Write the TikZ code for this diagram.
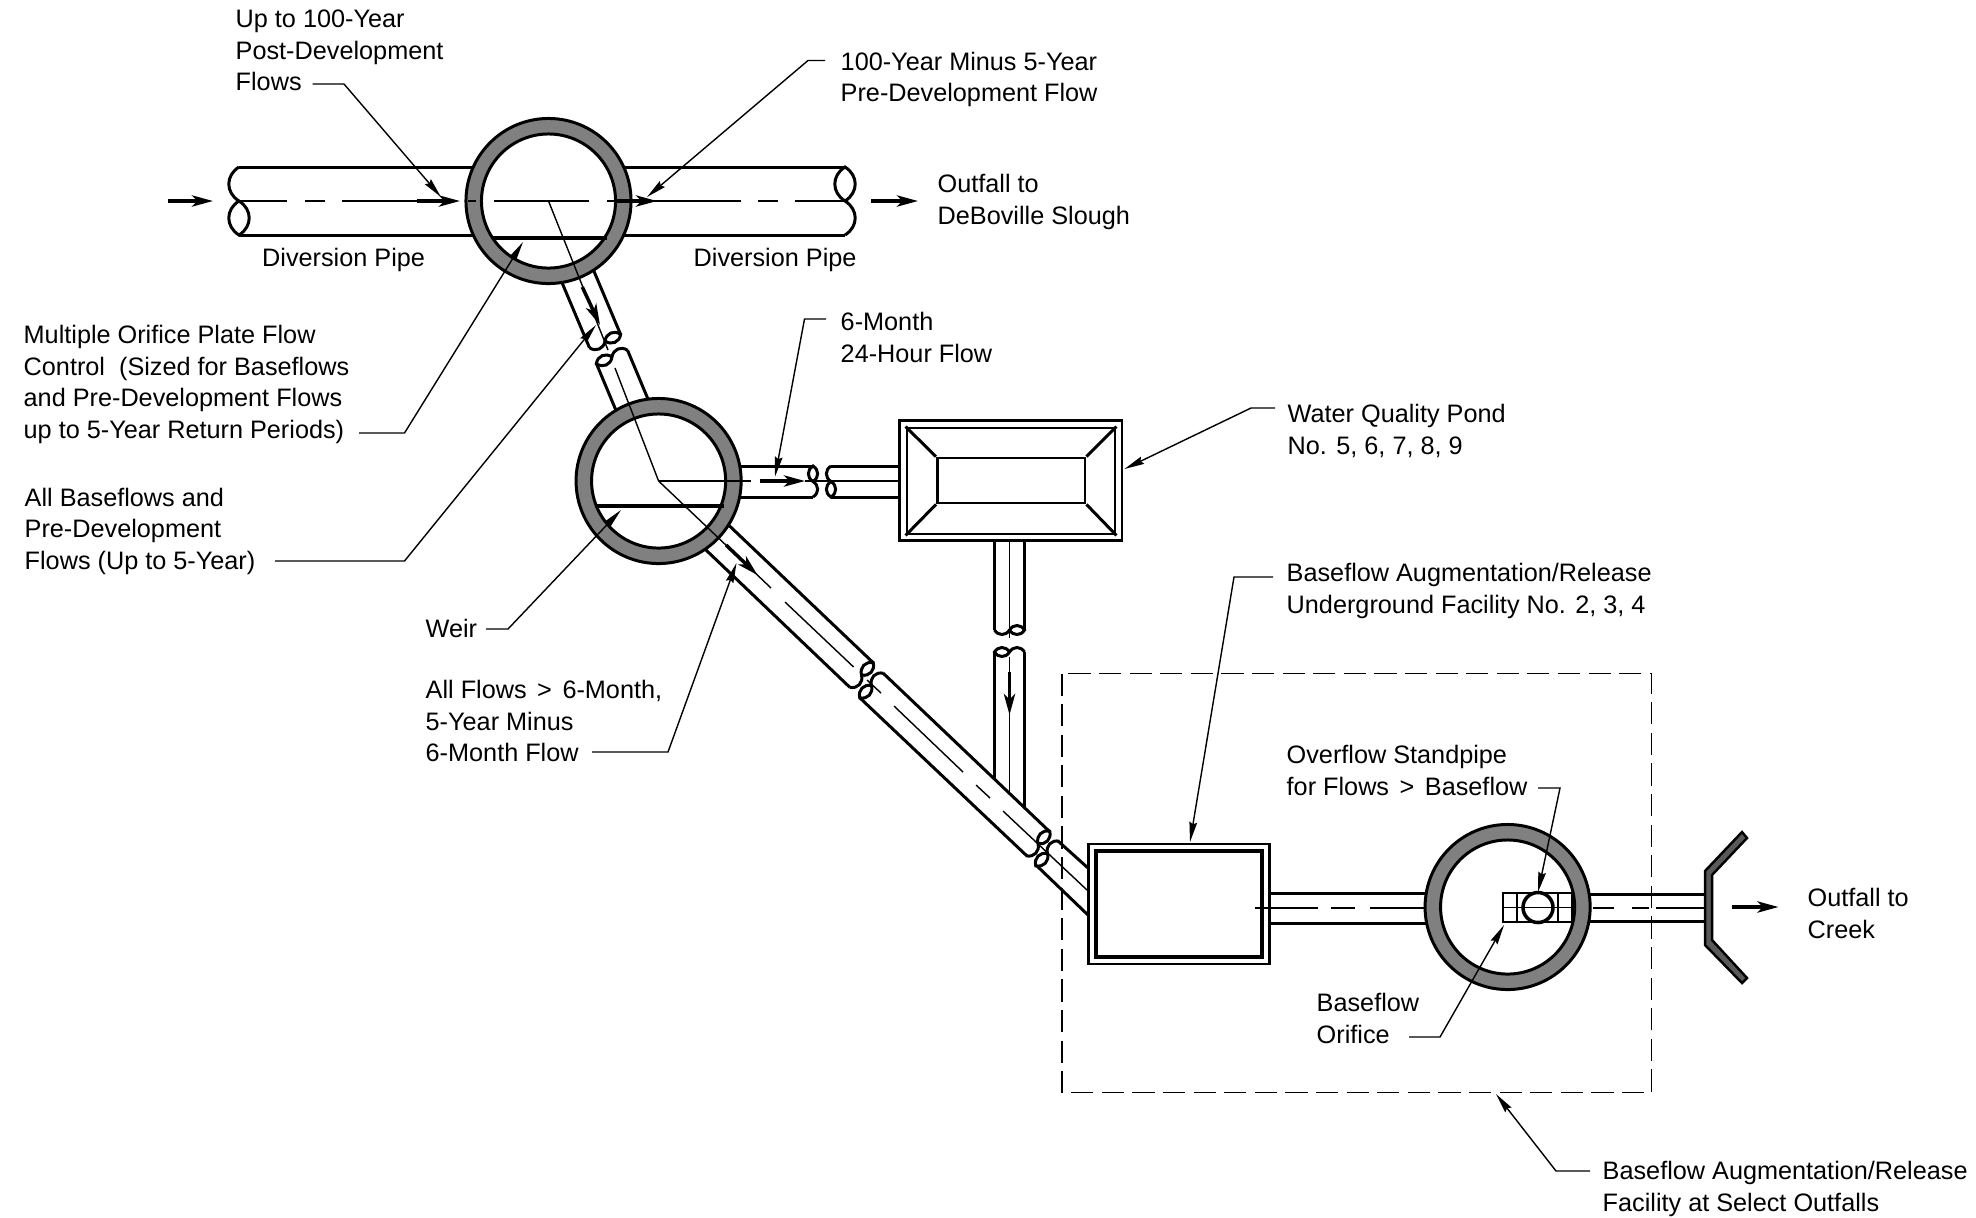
\documentclass[tikz,border=0pt]{standalone}
\usepackage{fontspec}
\setmainfont{Liberation Sans}
\usetikzlibrary{arrows.meta}
\definecolor{ringgrey}{gray}{0.5}
\newcommand{\gtsign}{\ \hspace{1pt}>\hspace{1pt}\ }
\tikzset{
    pipeline/.style={line width=0.85pt},
    centerline/.style={line width=0.4pt},
    leader/.style={line width=0.4pt, -{Stealth[length=5.7pt,width=2.2pt,inset=0.6pt]}},
    flowarrow/.style={line width=1pt, -{Stealth[length=6pt,width=3.2pt,inset=1.6pt]}},
    plate/.style={line width=1.3pt},
    lbl/.style={font=\fontsize{7.18}{8.96}\selectfont, align=left, inner sep=0pt, anchor=north west, xshift=-0.01cm, yshift=0.004cm},
    ringout/.style={circle, draw, line width=0.85pt, fill=ringgrey, inner sep=0pt, minimum size=1.65cm},
    ringin/.style={circle, draw, line width=0.85pt, fill=white, inner sep=0pt, minimum size=1.34cm},
    tank/.style={draw, line width=0.8pt, fill=white, inner sep=0pt},
    orificebox/.style={line width=0.6pt},
    pipeend/.pic={
        \draw[pipeline] (0,1) .. controls (0.4,0.75) and (0.4,0.25) .. (0,0)
            .. controls (0.4,-0.25) and (0.4,-0.75) .. (0,-1)
            .. controls (-0.4,-0.75) and (-0.4,-0.25) .. (0,0);
    }
}
\begin{document}
\begin{tikzpicture}[x=0.01cm, y=-0.01cm]
    \useasboundingbox (0,0) rectangle (1976,1217);

    % Diversion pipe
    \draw[pipeline] (239,167) -- (845,167);
    \draw[pipeline] (239,235) -- (845,235);
    \pic[rotate=180, scale=34] at (239,201) {pipeend};
    \pic[rotate=0, scale=34] at (845,201) {pipeend};

    % Pipe between the two upper rings
    \draw[pipeline] (585.6,251.4) -- (620.6,334.4);
    \draw[pipeline] (554.4,264.6) -- (589.4,347.6);
    \pic[rotate=-67, scale=17] at (605,341) {pipeend};
    \draw[pipeline] (627.6,350.4) -- (658.6,424.4);
    \draw[pipeline] (596.4,363.6) -- (627.4,437.6);
    \pic[rotate=113, scale=17] at (612,357) {pipeend};

    % Pipe to the pond
    \draw[pipeline] (700,466) -- (813,466);
    \draw[pipeline] (700,497) -- (813,497);
    \pic[rotate=0, scale=15.5] at (813,481.5) {pipeend};
    \draw[pipeline] (831,466) -- (899,466);
    \draw[pipeline] (831,497) -- (899,497);
    \pic[rotate=180, scale=15.5] at (831,481.5) {pipeend};

    % Pipe below the pond
    \draw[pipeline] (994.5,541) -- (994.5,630);
    \draw[pipeline] (1024.5,541) -- (1024.5,630);
    \pic[rotate=-90, scale=15] at (1009.5,630) {pipeend};
    \draw[pipeline] (994.5,652) -- (994.5,779);
    \draw[pipeline] (1024.5,652) -- (1024.5,807.7);
    \pic[rotate=90, scale=15] at (1009.5,652) {pipeend};

    % Diagonal pipe
    \draw[pipeline] (703,500.7) -- (873.2,662.7);
    \draw[pipeline] (679.8,525) -- (849.8,687.3);
    \pic[rotate=-43.6, scale=17] at (861.5,675) {pipeend};
    \draw[pipeline] (883,673) -- (1049,831);
    \draw[pipeline] (860,698) -- (1027,856);
    \pic[rotate=136.4, scale=17] at (871.5,685.5) {pipeend};
    \pic[rotate=-43.6, scale=17] at (1038,843.5) {pipeend};
    \draw[pipeline] (1058,841) -- (1088,868);
    \draw[pipeline] (1037,866) -- (1088,915);
    \pic[rotate=136.4, scale=17] at (1047.5,853.5) {pipeend};

    % Pipe from the facility to the outfall
    \draw[pipeline] (1270,893) -- (1440,893);
    \draw[pipeline] (1270,923) -- (1440,923);
    \draw[pipeline] (1570,894) -- (1705,894);
    \draw[pipeline] (1570,921) -- (1705,921);

    % Rings
    \node[ringout] (ringA) at (548.5,201) {};
    \node[ringin] (ringAin) at (ringA) {};
    \node[ringout] (ringB) at (658.6,481) {};
    \node[ringin] (ringBin) at (ringB) {};
    \node[ringout] (ringC) at (1507.6,907) {};
    \node[ringin] (ringCin) at (ringC) {};
    \draw[plate] (492,238) -- (607,238);
    \draw[plate] (597,506) -- (724,506);

    % Pond
    \node[tank, minimum width=2.225cm, minimum height=1.2cm] (pondOut) at (1010.7,480.5) {};
    \node[tank, minimum width=2.08cm, minimum height=1.06cm] (pondTop) at (1011,481) {};
    \node[tank, minimum width=1.476cm, minimum height=0.45cm] (pondBed) at (1011.2,480.5) {};
    \draw[pipeline] (pondTop.north west) -- (pondBed.north west);
    \draw[pipeline] (pondTop.north east) -- (pondBed.north east);
    \draw[pipeline] (pondTop.south west) -- (pondBed.south west);
    \draw[pipeline] (pondTop.south east) -- (pondBed.south east);

    % Underground facility
    \node[tank, minimum width=1.81cm, minimum height=1.2cm] (vaultOut) at (1179,904) {};
    \node[tank, line width=1.05pt, minimum width=1.66cm, minimum height=1.06cm] (vaultIn) at (1179,904) {};

    % Orifice and standpipe
    \draw[orificebox] (1503,893) rectangle (1572,922);
    \draw[orificebox] (1517,893) -- (1517,922) (1558,893) -- (1558,922);
    \node[circle, draw, line width=1pt, fill=white, inner sep=0pt, minimum size=0.3cm] (standpipe) at (1538,907.5) {};
    \draw[centerline] (1503,907.5) -- (1572,907.5);

    % Headwall
    \draw[line width=0.7pt, fill=ringgrey!70!black] (1742,832) -- (1747,838) -- (1712,875) -- (1712,940)
        -- (1747,978) -- (1742,983) -- (1705,945) -- (1705,871) -- cycle;

    % Center lines
    \draw[centerline] (239,201) -- (287,201) (305,201) -- (325,201) (342,201) -- (417,201);
    \draw[centerline] (494,201) -- (589,201) (607,201) -- (741,201) (758,201) -- (778,201) (795,201) -- (845,201);
    \draw[centerline] (468,201) -- (476,201);
    \coordinate (breakAB) at (608,350);
    \coordinate (breakBA) at (615,368);
    \draw[centerline] (ringA.center) -- (breakAB);
    \draw[centerline] (breakBA) -- (ringB.center);
    \draw[centerline] (ringB.center) -- (751,481);
    \draw[centerline] (805,481) -- (899,481);
    \draw[centerline] (1009.5,541) -- (1009.5,638) (1009.5,657) -- (1009.5,793);
    \draw[centerline] (ringB.center) -- (771,588);
    \draw[centerline] (785,602) -- (853.6,667) (867,680) -- (881,693);
    \draw[centerline] (894,706) -- (963,772) (976,785) -- (990,798) (1003,811) -- (1087,890);
    \draw[centerline] (1254.5,908) -- (1318,908) (1331,908) -- (1355,908) (1370,908) -- (1424.5,908);
    \draw[centerline] (1593,908) -- (1614,908) (1632,908) -- (1649,908) (1656,908) -- (1704,908);

    % Flow arrows
    \draw[flowarrow] (168,201) -- (213,201);
    \draw[flowarrow] (417,201) -- (460,201);
    \draw[flowarrow] (615,201) -- (657,201);
    \draw[flowarrow] (871,201) -- (918,201);
    \draw[flowarrow] (582.3,287) -- (600,325);
    \draw[flowarrow] (759.5,481) -- (805,481);
    \draw[flowarrow] (726,545) -- (757.5,575);
    \draw[flowarrow] (1009.5,672) -- (1009.5,715);
    \draw[flowarrow] (1732,907) -- (1778.5,907);

    % Selected outfalls
    \draw[line width=0.45pt, dash pattern=on 6.3pt off 2.4pt] (1062,673.5) rectangle (1651.5,1092.6);

    % Labels
    \node[lbl] (upTo) at (236,10) {Up to 100-Year\\Post-Development\\Flows};
    \node[lbl] (minusFlow) at (841,51.5) {100-Year Minus 5-Year\\Pre-Development Flow};
    \node[lbl] (outfallSlough) at (938,174) {Outfall to\\DeBoville Slough};
    \node[lbl] (pipeLeft) at (262.5,248) {Diversion Pipe};
    \node[lbl] (pipeRight) at (694,248) {Diversion Pipe};
    \node[lbl] (orificePlate) at (24,325) {Multiple Orifice Plate Flow\\Control\ \ (Sized for Baseflows\\and Pre-Development Flows\\up to 5-Year Return Periods)};
    \node[lbl] (allBase) at (25,487.5) {All Baseflows and\\Pre-Development\\Flows (Up to 5-Year)};
    \node[lbl] (sixMonth) at (841,312) {6-Month\\24-Hour Flow};
    \node[lbl] (waterPond) at (1288,404) {Water Quality Pond\\No. 5, 6, 7, 8, 9};
    \node[lbl] (underground) at (1287,563) {Baseflow Augmentation/Release\\Underground Facility No. 2, 3, 4};
    \node[lbl] (overflow) at (1287,745) {Overflow Standpipe\\for Flows\gtsign Baseflow};
    \node[lbl] (baseOrifice) at (1317,993) {Baseflow\\Orifice};
    \node[lbl] (weir) at (426,618.6) {Weir};
    \node[lbl] (allFlows) at (426,680) {All Flows\gtsign 6-Month,\\5-Year Minus\\6-Month Flow};
    \node[lbl] (outfallCreek) at (1808,888) {Outfall to\\Creek};
    \node[lbl] (selectOut) at (1603,1161) {Baseflow Augmentation/Release\\Facility at Select Outfalls};

    % Leaders
    \coordinate (upStart) at (312.5,84);
    \coordinate (upTip) at (441,197);
    \draw[leader] (upStart) -- (344,84) -- (upTip);
    \coordinate (minusStart) at (825,60.5);
    \coordinate (minusTip) at (647,197);
    \draw[leader] (minusStart) -- (808,60.5) -- (minusTip);
    \coordinate (plateStart) at (359,433);
    \coordinate (plateTip) at (523,242);
    \draw[leader] (plateStart) -- (404.5,433) -- (plateTip);
    \coordinate (baseStart) at (275,561);
    \coordinate (baseTip) at (596,325);
    \draw[leader] (baseStart) -- (404.5,561) -- (baseTip);
    \coordinate (sixStart) at (826,319);
    \coordinate (sixTip) at (775,476.7);
    \draw[leader] (sixStart) -- (804.5,319) -- (sixTip);
    \coordinate (pondStart) at (1275,408);
    \coordinate (pondTip) at (1124.4,469);
    \draw[leader] (pondStart) -- (1251,408) -- (pondTip);
    \coordinate (vaultStart) at (1273,577);
    \coordinate (vaultTip) at (1190,842);
    \draw[leader] (vaultStart) -- (1234,577) -- (vaultTip);
    \coordinate (overStart) at (1538,788);
    \coordinate (overTip) at (1538,892);
    \draw[leader] (overStart) -- (1560,788) -- (overTip);
    \coordinate (orificeStart) at (1409,1037);
    \coordinate (orificeTip) at (1504,925);
    \draw[leader] (orificeStart) -- (1440,1037) -- (orificeTip);
    \coordinate (weirStart) at (486,629);
    \coordinate (weirTip) at (621,510);
    \draw[leader] (weirStart) -- (508,629) -- (weirTip);
    \coordinate (flowsStart) at (592,752);
    \coordinate (flowsTip) at (736.5,563);
    \draw[leader] (flowsStart) -- (668,752) -- (flowsTip);
    \coordinate (selectStart) at (1590,1171);
    \coordinate (selectTip) at (1496,1094);
    \draw[leader] (selectStart) -- (1556,1171) -- (selectTip);
\end{tikzpicture}
\end{document}
